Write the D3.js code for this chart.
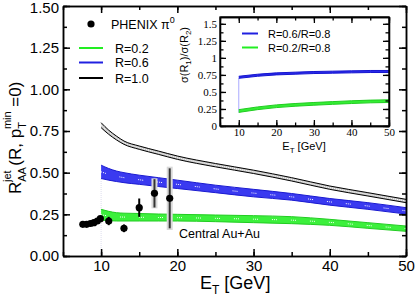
<!DOCTYPE html>
<html>
<head>
<meta charset="utf-8">
<script src="https://cdn.jsdelivr.net/npm/d3@7"></script>
<style>
  body { margin: 0; background: #fff; }
  svg { display: block; font-family: "Liberation Sans", Arial, sans-serif; }
  .ax path, .ax line { stroke: #000; stroke-width: 1.5; }
  .ax text { font-size: 15px; fill: #000; }
  .inax path, .inax line { stroke: #000; stroke-width: 1.3; }
  .inax text { font-family: "Liberation Serif", "DejaVu Serif", serif; font-size: 11px; fill: #000; }
</style>
</head>
<body>
<div id="chart"></div>
<script>
// PHENIX pi0 points
var phenixE   = [7.6, 8.1, 8.6, 9.05, 9.5, 9.9, 11, 13, 15, 17, 19]
var phenixR   = [0.19, 0.19, 0.195, 0.2, 0.21, 0.224, 0.21, 0.166, 0.29, 0.376, 0.346]
var phenixErr = [0.01, 0.01, 0.01, 0.01, 0.012, 0.015, 0.025, 0.023, 0.055, 0.085, 0.18]
var phenixSys = [0, 0, 0, 0, 0, 0, 0, 0, 0, 0.09, 0.19]

// theory bands, main panel
var bandE  = [10, 11, 12, 13, 15, 17.5, 20, 25, 30, 35, 40, 45, 50]
var r10Hi  = [0.80, 0.755, 0.72, 0.69, 0.66, 0.63, 0.60, 0.555, 0.515, 0.47, 0.42, 0.38, 0.34]
var r10Lo  = [0.77, 0.73, 0.697, 0.67, 0.64, 0.61, 0.58, 0.535, 0.495, 0.45, 0.40, 0.36, 0.32]
var r06Hi  = [0.545, 0.525, 0.51, 0.50, 0.485, 0.47, 0.455, 0.425, 0.40, 0.375, 0.345, 0.32, 0.29]
var r06Lo  = [0.465, 0.455, 0.447, 0.44, 0.43, 0.417, 0.405, 0.38, 0.355, 0.335, 0.305, 0.28, 0.252]
var r02Hi  = [0.28, 0.268, 0.26, 0.257, 0.255, 0.252, 0.25, 0.246, 0.242, 0.236, 0.22, 0.2, 0.18]
var r02Lo  = [0.215, 0.212, 0.21, 0.21, 0.21, 0.21, 0.21, 0.206, 0.2, 0.194, 0.184, 0.166, 0.148]

// inset: cross section ratios
var insetE     = [10, 15, 20, 25, 30, 35, 40, 45, 50]
var ratio06Hi  = [0.73, 0.76, 0.78, 0.79, 0.80, 0.805, 0.81, 0.815, 0.815]
var ratio06Lo  = [0.70, 0.73, 0.75, 0.76, 0.77, 0.775, 0.78, 0.785, 0.785]
var ratio02Hi  = [0.24, 0.28, 0.31, 0.33, 0.345, 0.358, 0.37, 0.38, 0.385]
var ratio02Lo  = [0.20, 0.24, 0.27, 0.29, 0.305, 0.318, 0.33, 0.34, 0.345]

var xTicks = [10, 20, 30, 40, 50]
var yTicks = [0, 0.25, 0.5, 0.75, 1, 1.25, 1.5]

var width = 415, height = 298

var svg = d3.select("#chart").append("svg")
    .attr("width", width)
    .attr("height", height)

var x = d3.scaleLinear().domain([5, 50]).range([63, 406])
var y = d3.scaleLinear().domain([0, 1.5]).range([256, 6])

function zip(es, hi, lo) {
    return es.map(function (e, i) { return { e: e, hi: hi[i], lo: lo[i] } })
}

function drawBand(g, xs, ys, data, fill, edge, dots) {
    var area = d3.area().curve(d3.curveMonotoneX)
        .x(function (d) { return xs(d.e) })
        .y0(function (d) { return ys(d.lo) })
        .y1(function (d) { return ys(d.hi) })
    var lineHi = d3.line().curve(d3.curveMonotoneX)
        .x(function (d) { return xs(d.e) }).y(function (d) { return ys(d.hi) })
    var lineLo = d3.line().curve(d3.curveMonotoneX)
        .x(function (d) { return xs(d.e) }).y(function (d) { return ys(d.lo) })
    var lineMid = d3.line().curve(d3.curveMonotoneX)
        .x(function (d) { return xs(d.e) }).y(function (d) { return ys((d.hi + d.lo) / 2) })
    g.append("path").attr("d", area(data)).attr("fill", fill).attr("stroke", "none")
    if (dots) {
        g.append("path").attr("d", lineMid(data)).attr("fill", "none")
            .attr("stroke", "#fff").attr("stroke-width", 1)
            .attr("stroke-dasharray", dots)
    }
    g.append("path").attr("d", lineHi(data)).attr("fill", "none").attr("stroke", edge).attr("stroke-width", 1)
    g.append("path").attr("d", lineLo(data)).attr("fill", "none").attr("stroke", edge).attr("stroke-width", 1)
}

// faint vertical line at band start
svg.append("line")
    .attr("x1", x(10)).attr("x2", x(10))
    .attr("y1", y(0)).attr("y2", y(r06Lo[0]))
    .attr("stroke", "#dde").attr("stroke-width", 1).attr("stroke-dasharray", "1,1")

var bands = svg.append("g")
drawBand(bands, x, y, zip(bandE, r02Hi, r02Lo), "#3cf03c", "#22cc22", "1,1,1,1,1,14")
drawBand(bands, x, y, zip(bandE, r06Hi, r06Lo), "#3a3af0", "#1a1ad0", "1,1,1,1,1,14")
drawBand(bands, x, y, zip(bandE, r10Hi, r10Lo), "#c4c4c4", "#000", "1,1")

// PHENIX points
var pts = phenixE.map(function (e, i) {
    return { e: e, r: phenixR[i], err: phenixErr[i], sys: phenixSys[i] }
})
svg.selectAll("rect.sys").data(pts.filter(function (d) { return d.sys > 0 }))
    .enter().append("rect")
    .attr("class", "sys")
    .attr("x", function (d) { return x(d.e) - 3 })
    .attr("width", 6)
    .attr("y", function (d) { return y(d.r + d.sys) })
    .attr("height", function (d) { return y(d.r - d.sys) - y(d.r + d.sys) })
    .attr("fill", "#d8d8d8")
svg.selectAll("line.err").data(pts)
    .enter().append("line")
    .attr("class", "err")
    .attr("x1", function (d) { return x(d.e) })
    .attr("x2", function (d) { return x(d.e) })
    .attr("y1", function (d) { return y(d.r + d.err) })
    .attr("y2", function (d) { return y(d.r - d.err) })
    .attr("stroke", function (d) { return d.sys > 0 ? "#333" : "#000" })
    .attr("stroke-width", 2)
svg.selectAll("circle.pt").data(pts)
    .enter().append("circle")
    .attr("class", "pt")
    .attr("cx", function (d) { return x(d.e) })
    .attr("cy", function (d) { return y(d.r) })
    .attr("r", 3.6)
    .attr("fill", "#000")

// main axes
function minorOf(domain, step) {
    return d3.range(domain[0], domain[1] + 1e-9, step)
}
var xMinor = minorOf([5, 50], 5)
var yMinor = minorOf([0, 1.5], 0.125)

var xAxisG = svg.append("g").attr("class", "ax").attr("transform", "translate(0,256)")
    .call(d3.axisBottom(x).tickValues(xTicks).tickSize(-7).tickSizeOuter(0).tickPadding(4))
svg.append("g").attr("class", "ax").attr("transform", "translate(0,256)")
    .call(d3.axisBottom(x).tickValues(xMinor).tickSize(-4).tickSizeOuter(0).tickFormat(""))
svg.append("g").attr("class", "ax").attr("transform", "translate(0,6)")
    .call(d3.axisTop(x).tickValues(xTicks).tickSize(-7).tickSizeOuter(0).tickFormat(""))
svg.append("g").attr("class", "ax").attr("transform", "translate(0,6)")
    .call(d3.axisTop(x).tickValues(xMinor).tickSize(-4).tickSizeOuter(0).tickFormat(""))
var yAxisG = svg.append("g").attr("class", "ax").attr("transform", "translate(63,0)")
    .call(d3.axisLeft(y).tickValues(yTicks).tickSize(-7).tickSizeOuter(0).tickPadding(4).tickFormat(d3.format(".2f")))
svg.append("g").attr("class", "ax").attr("transform", "translate(63,0)")
    .call(d3.axisLeft(y).tickValues(yMinor).tickSize(-4).tickSizeOuter(0).tickFormat(""))
svg.append("g").attr("class", "ax").attr("transform", "translate(406,0)")
    .call(d3.axisRight(y).tickValues(yTicks).tickSize(-7).tickSizeOuter(0).tickFormat(""))
svg.append("g").attr("class", "ax").attr("transform", "translate(406,0)")
    .call(d3.axisRight(y).tickValues(yMinor).tickSize(-4).tickSizeOuter(0).tickFormat(""))
// top label sits fully inside the picture
yAxisG.selectAll(".tick text").filter(function (d) { return d === 1.5 }).attr("dy", "0.45em")

// axis titles
var xt = svg.append("text").attr("x", 200).attr("y", 289).attr("font-size", 18)
xt.append("tspan").text("E")
xt.append("tspan").attr("font-size", 12).attr("dy", 5).text("T")
xt.append("tspan").attr("dy", -5).text(" [GeV]")

var yt = svg.append("text").attr("transform", "translate(21,194) rotate(-90)").attr("font-size", 17)
yt.append("tspan").text("R")
yt.append("tspan").attr("font-size", 11).attr("dy", 5).text("AA")
yt.append("tspan").attr("font-size", 11).attr("dx", -15).attr("dy", -15).text("jet")
yt.append("tspan").attr("dy", 10).text(" (R, p")
yt.append("tspan").attr("font-size", 11).attr("dy", 5).text("T")
yt.append("tspan").attr("font-size", 11).attr("dx", -7).attr("dy", -15).text("min")
yt.append("tspan").attr("dy", 10).text(" =0)")

svg.append("text").attr("x", 179).attr("y", 238).attr("font-size", 12.5).text("Central Au+Au")

// legend
var leg = svg.append("g").attr("font-size", 12.5)
leg.append("circle").attr("cx", 91).attr("cy", 24).attr("r", 3.6).attr("fill", "#000")
var lt = leg.append("text").attr("x", 111).attr("y", 29)
lt.append("tspan").text("PHENIX π")
lt.append("tspan").attr("font-size", 9).attr("dy", -6).text("0")
var legItems = [["R=0.2", "#22ee22", 48], ["R=0.6", "#2020e0", 62.5], ["R=1.0", "#000", 78]]
legItems.forEach(function (it) {
    leg.append("line").attr("x1", 79).attr("x2", 103).attr("y1", it[2]).attr("y2", it[2])
        .attr("stroke", it[1]).attr("stroke-width", 2)
    leg.append("text").attr("x", 115).attr("y", it[2] + 4.5).text(it[0])
})

// inset
var xi = d3.scaleLinear().domain([5, 50]).range([220, 389])
var yi = d3.scaleLinear().domain([0, 1.6]).range([126, 17])

svg.append("rect").attr("x", 220).attr("y", 17).attr("width", 169).attr("height", 109)
    .attr("fill", "#fff")

svg.append("line")
    .attr("x1", xi(10)).attr("x2", xi(10))
    .attr("y1", yi(ratio02Lo[0])).attr("y2", yi(ratio06Lo[0]))
    .attr("stroke", "#aaf").attr("stroke-width", 1)
var inb = svg.append("g")
drawBand(inb, xi, yi, zip(insetE, ratio02Hi, ratio02Lo), "#33ee33", "#22cc22", null)
drawBand(inb, xi, yi, zip(insetE, ratio06Hi, ratio06Lo), "#2828e8", "#1515d0", null)

var ixTicks = [10, 20, 30, 40, 50]
var iyTicks = [0, 0.25, 0.5, 0.75, 1, 1.25, 1.5]
var ixMinor = minorOf([5, 50], 5)
var iyMinor = minorOf([0, 1.5], 0.125)
svg.append("g").attr("class", "inax").attr("transform", "translate(0,126)")
    .call(d3.axisBottom(xi).tickValues(ixTicks).tickSize(-6).tickSizeOuter(0).tickPadding(2))
svg.append("g").attr("class", "inax").attr("transform", "translate(0,126)")
    .call(d3.axisBottom(xi).tickValues(ixMinor).tickSize(-3.5).tickSizeOuter(0).tickFormat(""))
svg.append("g").attr("class", "inax").attr("transform", "translate(0,17)")
    .call(d3.axisTop(xi).tickValues(ixTicks).tickSize(-6).tickSizeOuter(0).tickFormat(""))
svg.append("g").attr("class", "inax").attr("transform", "translate(0,17)")
    .call(d3.axisTop(xi).tickValues(ixMinor).tickSize(-3.5).tickSizeOuter(0).tickFormat(""))
svg.append("g").attr("class", "inax").attr("transform", "translate(220,0)")
    .call(d3.axisLeft(yi).tickValues(iyTicks).tickSize(-6).tickSizeOuter(0).tickPadding(3).tickFormat(d3.format("~g")))
svg.append("g").attr("class", "inax").attr("transform", "translate(220,0)")
    .call(d3.axisLeft(yi).tickValues(iyMinor).tickSize(-3.5).tickSizeOuter(0).tickFormat(""))
svg.append("g").attr("class", "inax").attr("transform", "translate(389,0)")
    .call(d3.axisRight(yi).tickValues(iyTicks).tickSize(-6).tickSizeOuter(0).tickFormat(""))
svg.append("g").attr("class", "inax").attr("transform", "translate(389,0)")
    .call(d3.axisRight(yi).tickValues(iyMinor).tickSize(-3.5).tickSizeOuter(0).tickFormat(""))
svg.append("rect").attr("x", 220).attr("y", 17).attr("width", 169).attr("height", 109)
    .attr("fill", "none").attr("stroke", "#000").attr("stroke-width", 1.3)

var ixt = svg.append("text").attr("x", 304).attr("y", 150).attr("font-size", 11).attr("text-anchor", "middle")
ixt.append("tspan").text("E")
ixt.append("tspan").attr("font-size", 8).attr("dy", 3).text("T")
ixt.append("tspan").attr("dy", -3).text(" [GeV]")

var iyt = svg.append("text").attr("transform", "translate(188,55) rotate(-90)")
    .attr("font-size", 11).attr("text-anchor", "middle")
iyt.append("tspan").text("σ(R")
iyt.append("tspan").attr("font-size", 8).attr("dy", 3).text("1")
iyt.append("tspan").attr("dy", -3).text(")/σ(R")
iyt.append("tspan").attr("font-size", 8).attr("dy", 3).text("2")
iyt.append("tspan").attr("dy", -3).text(")")

var ileg = svg.append("g").attr("font-size", 11)
var ilegItems = [["R=0.6/R=0.8", "#2020e0", 33.5], ["R=0.2/R=0.8", "#22ee22", 47.5]]
ilegItems.forEach(function (it) {
    ileg.append("line").attr("x1", 242).attr("x2", 258).attr("y1", it[2]).attr("y2", it[2])
        .attr("stroke", it[1]).attr("stroke-width", 2)
    ileg.append("text").attr("x", 268).attr("y", it[2] + 4).text(it[0])
})
</script>
</body>
</html>
